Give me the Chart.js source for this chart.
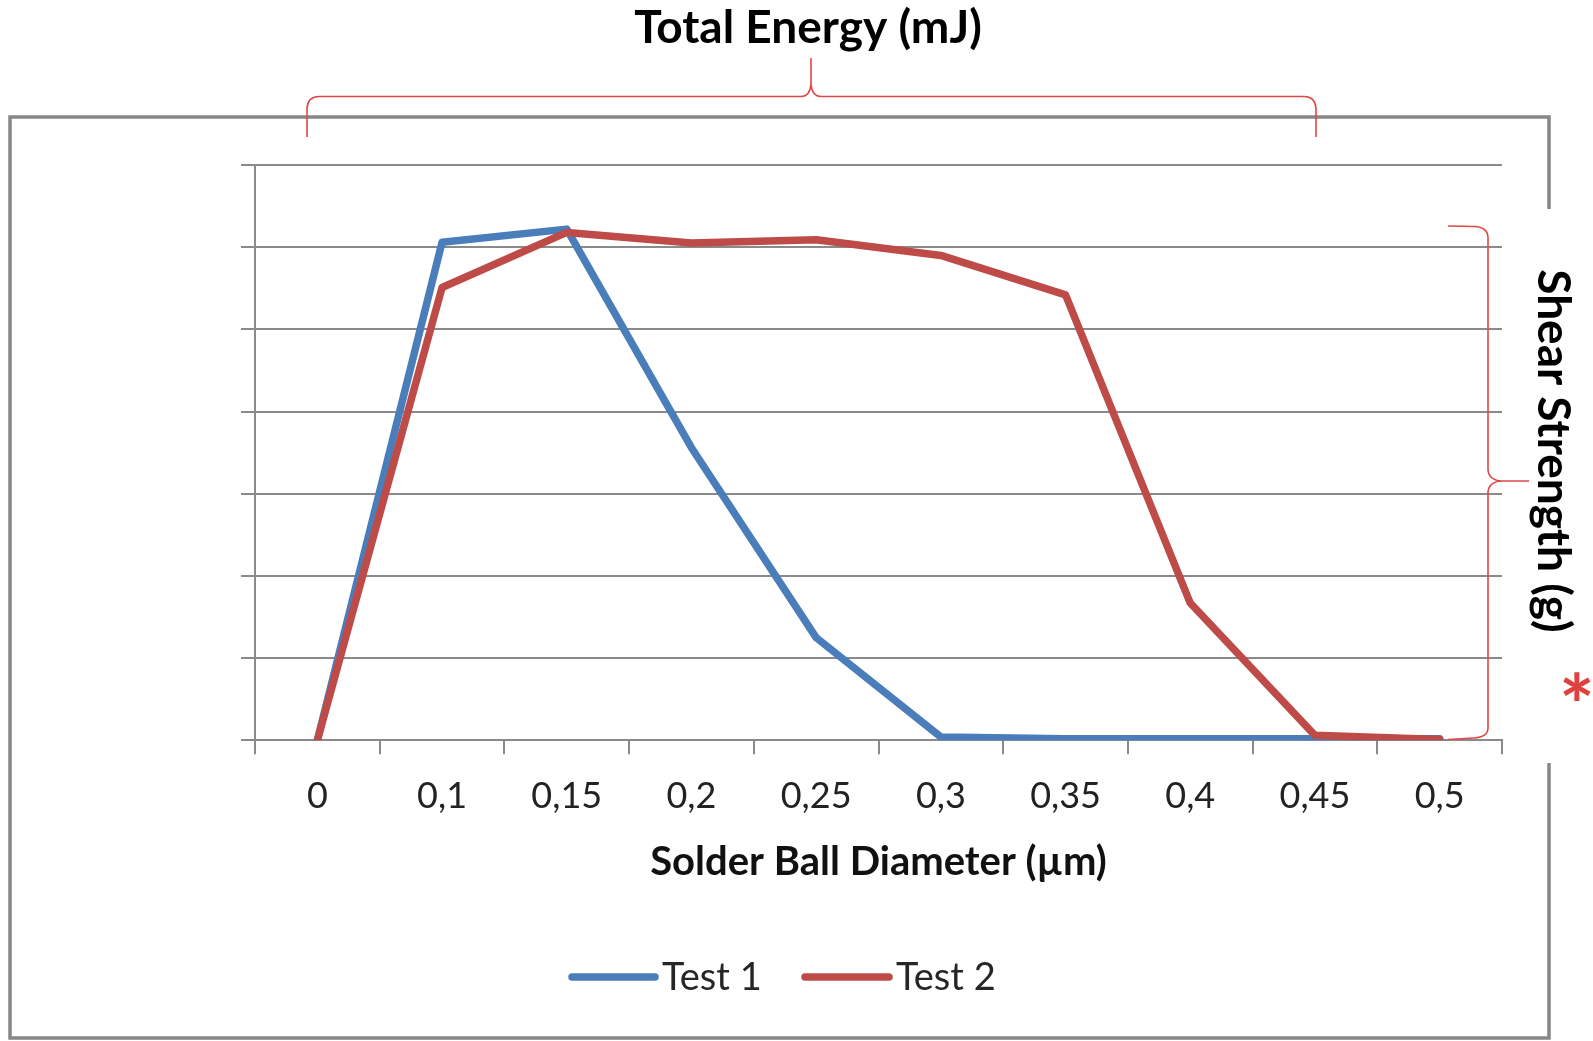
<!DOCTYPE html>
<html><head><meta charset="utf-8">
<script src="https://cdn.jsdelivr.net/npm/chart.js@4.4.1/dist/chart.umd.min.js"></script>
<style>html,body{margin:0;padding:0;background:#fff;overflow:hidden}canvas{display:block}</style>
</head><body>
<canvas id="c" width="1593" height="1041" style="width:1593px;height:1041px"></canvas>
<script>
// ---- data ----
const categories = ['0','0,1','0,15','0,2','0,25','0,3','0,35','0,4','0,45','0,5'];
const test1 = [0, 6.06, 6.22, 3.56, 1.25, 0.04, 0.02, 0.02, 0.02, 0.02];
const test2 = [0, 5.51, 6.18, 6.05, 6.09, 5.90, 5.42, 1.67, 0.06, 0.01];
const seriesNames = ['Test 1', 'Test 2'];
const yMin = 0, yMax = 7, yStep = 1;
const topTitle = 'Total Energy (mJ)';
const xTitle = 'Solder Ball Diameter (µm)';
const rightTitle = 'Shear Strength (g)';

const BLUE = '#4a7ebb', RED = '#be4b48', GRID = '#8a8a8a', BRACE = '#e04848';

const decor = {
  id: 'decor',
  afterDraw(chart) {
    const ctx = chart.ctx;
    ctx.save();
    // outer frame
    ctx.strokeStyle = '#878787';
    ctx.lineWidth = 3.5;
    ctx.beginPath();
    ctx.moveTo(1549, 209); ctx.lineTo(1549, 117); ctx.lineTo(10, 117);
    ctx.lineTo(10, 1038); ctx.lineTo(1549, 1038); ctx.lineTo(1549, 763);
    ctx.stroke();

    // top title
    ctx.fillStyle = '#000';
    ctx.font = 'bold 46px Lato';
    ctx.textAlign = 'center';
    ctx.textBaseline = 'alphabetic';
    ctx.fillText(topTitle, 808, 43);

    // top brace
    ctx.strokeStyle = BRACE;
    ctx.lineWidth = 1.6;
    ctx.beginPath();
    ctx.moveTo(307, 137); ctx.lineTo(307, 108);
    ctx.quadraticCurveTo(308, 96.5, 319, 96.5);
    ctx.lineTo(801, 96.5);
    ctx.quadraticCurveTo(810, 96.5, 811, 84);
    ctx.lineTo(811, 58);
    ctx.moveTo(811, 84);
    ctx.quadraticCurveTo(812, 96.5, 821, 96.5);
    ctx.lineTo(1304, 96.5);
    ctx.quadraticCurveTo(1315, 96.5, 1316, 108);
    ctx.lineTo(1316, 137);
    ctx.stroke();

    // right brace
    ctx.beginPath();
    ctx.moveTo(1448, 226); ctx.lineTo(1474, 226.5);
    ctx.quadraticCurveTo(1488, 227, 1488, 238);
    ctx.lineTo(1488, 470);
    ctx.quadraticCurveTo(1489, 480.5, 1502, 481);
    ctx.lineTo(1529, 481);
    ctx.moveTo(1502, 481);
    ctx.quadraticCurveTo(1489, 481.5, 1488, 492);
    ctx.lineTo(1488, 728);
    ctx.quadraticCurveTo(1488, 737, 1474, 738);
    ctx.lineTo(1448, 739.5);
    ctx.stroke();

    // right rotated label
    ctx.save();
    ctx.translate(1538, 451);
    ctx.rotate(Math.PI / 2);
    ctx.fillStyle = '#000';
    ctx.font = 'bold 46px Lato';
    ctx.textAlign = 'center';
    ctx.textBaseline = 'alphabetic';
    ctx.fillText(rightTitle, 0, 0);
    ctx.restore();

    // asterisk
    ctx.fillStyle = '#e0413f';
    ctx.font = 'bold 84px Lato';
    ctx.textAlign = 'left';
    ctx.textBaseline = 'alphabetic';
    const m = ctx.measureText('*');
    const aw = m.actualBoundingBoxRight + m.actualBoundingBoxLeft;
    const cx = 1577, cy = 686;
    ctx.fillText('*', cx - aw / 2 + m.actualBoundingBoxLeft, cy + m.actualBoundingBoxAscent - (m.actualBoundingBoxAscent + m.actualBoundingBoxDescent) / 2);

    // legend
    const legendItems = [
      {x1: 572, x2: 655, tx: 662},
      {x1: 805, x2: 889, tx: 896}
    ];
    ctx.font = '38px Lato';
    ctx.textAlign = 'left';
    ctx.textBaseline = 'alphabetic';
    chart.data.datasets.forEach((ds, i) => {
      const li = legendItems[i];
      ctx.strokeStyle = ds.borderColor;
      ctx.lineWidth = 7.5;
      ctx.lineCap = 'round';
      ctx.beginPath();
      ctx.moveTo(li.x1, 977); ctx.lineTo(li.x2, 977);
      ctx.stroke();
      ctx.fillStyle = '#262626';
      ctx.fillText(ds.label, li.tx, 990);
    });
    ctx.restore();
  }
};

new Chart(document.getElementById('c'), {
  type: 'line',
  data: {
    labels: categories,
    datasets: [
      {label: seriesNames[0], data: test1, borderColor: BLUE, backgroundColor: BLUE, order: 1},
      {label: seriesNames[1], data: test2, borderColor: RED, backgroundColor: RED, order: 0}
    ]
  },
  options: {
    responsive: false,
    animation: false,
    events: [],
    layout: {padding: {left: 241, right: 91, top: 165, bottom: 154.5}},
    elements: {
      line: {tension: 0, borderWidth: 7.5, borderJoinStyle: 'round', borderCapStyle: 'round', fill: false},
      point: {radius: 0}
    },
    plugins: {legend: {display: false}, tooltip: {enabled: false}, title: {display: false}},
    scales: {
      x: {
        type: 'category',
        offset: true,
        grid: {display: true, offset: true, drawOnChartArea: false, drawTicks: true, tickLength: 14, color: GRID, lineWidth: 2},
        border: {display: true, color: GRID, width: 2},
        ticks: {color: '#222', font: {family: 'Lato', size: 36}, padding: 20, maxRotation: 0, autoSkip: false},
        title: {display: true, text: xTitle, color: '#111', font: {family: 'Lato', size: 40, weight: 'bold'}, padding: {top: 1, bottom: 0}}
      },
      y: {
        min: yMin, max: yMax,
        ticks: {display: false, stepSize: yStep},
        grid: {color: GRID, lineWidth: 2, drawTicks: true, tickLength: 14},
        border: {display: true, color: GRID, width: 2}
      }
    }
  },
  plugins: [decor]
});
</script>
</body></html>
